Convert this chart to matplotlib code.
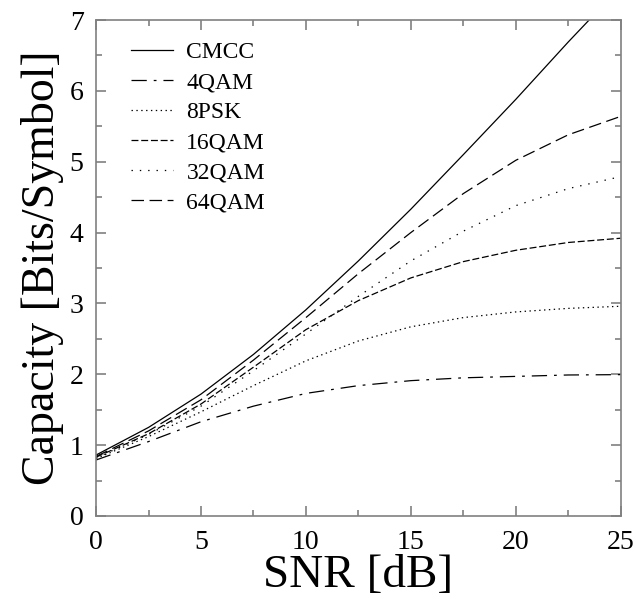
import numpy as np
import matplotlib.pyplot as plt
from matplotlib.ticker import MultipleLocator

plt.rcParams.update({
    'font.family': 'Liberation Serif',
    'mathtext.fontset': 'stix',
    'lines.scale_dashes': False,
})

snr_db = [0, 2.5, 5, 7.5, 10, 12.5, 15, 17.5, 20, 22.5, 25]

cap_cmcc = [0.86, 1.25, 1.72, 2.28, 2.91, 3.60, 4.33, 5.10, 5.88, 6.69, 7.47]
cap_4qam = [0.79, 1.05, 1.33, 1.55, 1.73, 1.84, 1.91, 1.95, 1.97, 1.99, 1.995]
cap_8psk = [0.81, 1.12, 1.47, 1.84, 2.19, 2.47, 2.67, 2.80, 2.88, 2.93, 2.96]
cap_16qam = [0.83, 1.16, 1.58, 2.10, 2.63, 3.04, 3.36, 3.59, 3.75, 3.86, 3.92]
cap_32qam = [0.82, 1.15, 1.55, 2.05, 2.57, 3.10, 3.60, 4.02, 4.38, 4.62, 4.79]
cap_64qam = [0.84, 1.20, 1.64, 2.20, 2.80, 3.42, 4.00, 4.55, 5.02, 5.38, 5.64]

labels = ['CMCC', '4QAM', '8PSK', '16QAM', '32QAM', '64QAM']
series = [cap_cmcc, cap_4qam, cap_8psk, cap_16qam, cap_32qam, cap_64qam]
dashes = [None, (11, 5, 2, 5), (1, 2.5), (5, 2), (1, 5), (9, 4)]

fig = plt.figure(figsize=(6.36, 5.99), dpi=100)
ax = fig.add_axes([0.151, 0.1386, 0.825, 0.828])

for y, lab, d in zip(series, labels, dashes):
    line, = ax.plot(snr_db, y, color='black', lw=0.9, label=lab)
    if d is not None:
        line.set_dashes(d)

ax.set_xlim(0, 25)
ax.set_ylim(0, 7)
ax.xaxis.set_major_locator(MultipleLocator(5))
ax.xaxis.set_minor_locator(MultipleLocator(2.5))
ax.yaxis.set_major_locator(MultipleLocator(1))
ax.yaxis.set_minor_locator(MultipleLocator(0.5))
ax.tick_params(which='both', direction='in', top=True, right=True,
               color='#808080', width=1.2, labelsize=20)
ax.tick_params(axis='x', which='both', pad=10)
ax.tick_params(axis='y', which='both', pad=9)
ax.tick_params(which='major', length=7)
ax.tick_params(which='minor', length=4)
for s in ax.spines.values():
    s.set_color('#808080')
    s.set_linewidth(1.2)

ax.set_xlabel('SNR [dB]', fontsize=34, labelpad=0)
ax.set_ylabel('Capacity [Bits/Symbol]', fontsize=33, labelpad=4)

ax.legend(loc='upper left', frameon=False, fontsize=17, handlelength=1.8,
          handletextpad=0.55, labelspacing=0.36, borderaxespad=0.3,
          bbox_to_anchor=(0.035, 0.99))

fig.savefig('out.png', dpi=100)
